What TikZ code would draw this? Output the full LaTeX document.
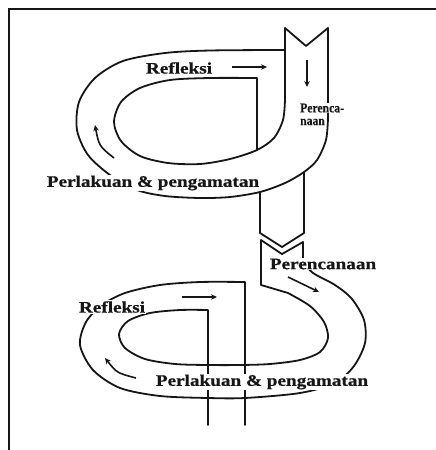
\documentclass[tikz,border=0pt]{standalone}
\usepackage{fontspec}
\setmainfont{Liberation Serif}
\newfontfamily\widefont[FakeStretch=1.2,BoldFeatures={FakeBold=0.6}]{Liberation Serif}
\usetikzlibrary{arrows.meta}
\definecolor{ink}{RGB}{22,22,22}
\newcommand{\squeeze}[1]{\scalebox{0.72}[1]{#1}}
\tikzset{
  rib/.style={draw=ink,line width=1.8pt,line cap=round,line join=round},
  arr/.style={-{Stealth[length=6pt,width=5.5pt]},line width=1.6pt,draw=ink},
  lbl/.style={font=\widefont\fontsize{16}{16}\selectfont\bfseries,text=ink,
    fill=white,inner sep=1pt},
  narrowlbl/.style={lbl,font=\widefont\fontsize{13.5}{13.5}\selectfont\bfseries,
    anchor=west},
}

\begin{document}
\begin{tikzpicture}[x=1pt,y=-1pt]
  \useasboundingbox (0,0) rectangle (436,450);
  % frame
  \draw[ink,line width=2.6pt] (9,452) -- (9,9) -- (438,9);

  % first cycle
  \draw[rib] (285,28) -- (306,46) -- (328,28);
  \draw[rib] (328,28) -- (328,118) -- plot[smooth] coordinates {(328,118)
    (326,140) (317,160) (304,172) (285,183) (260,192) (230,197) (200,198)
    (165,196) (137,190) (110,175) (88,155) (77,130) (79,102) (95,78)
    (123,61) (165,53) (210,50.5) (285,50)};
  \draw[rib] (285,28) -- (285,100) -- plot[smooth] coordinates {(285,100)
    (283,120) (274,138) (257,150) (230,159) (200,164) (168,163) (140,156)
    (121,141) (114,122) (121,102) (140,88) (170,80) (210,78) (257,78)}
    -- (257,150);
  \draw[rib] (260,192) -- (260,233) -- (282,247) -- (304,233) -- (304,172);

  % second cycle
  \draw[rib] (303,262) -- (303,242) -- (282,254) -- (261,240) -- (261,285)
    -- (288,293) -- plot[smooth] coordinates {(288,293) (310,306) (324,322)
    (328,338) (320,352) (300,360) (270,364) (240,365) (208,365) (175,364)
    (145,359) (125,348) (119,334) (128,321) (150,313) (180,310) (208,310)}
    -- (208,425);
  \draw[rib] (303,262) -- plot[smooth] coordinates {(303,262) (313,273)
    (335,285) (352,299) (364,320) (365,343) (354,366) (335,383) (300,393)
    (245,398) (208,398) (160,396) (120,388) (93,370) (80,345) (86,322)
    (102,305) (125,293) (160,285) (200,282) (245,282)} -- (245,425);

  % labels
  \node[lbl] (refA) at (179,68) {Refleksi};
  \node[narrowlbl] (planA) at (299,108) {\squeeze{Perenca-}};
  \node[narrowlbl] (planA2) at (299,122) {\squeeze{naan}};
  \node[lbl] (actA) at (153,183) {Perlakuan \& pengamatan};
  \node[lbl] (planB) at (323,264) {Perencanaan};
  \node[lbl] (refB) at (112,307) {Refleksi};
  \node[lbl] (actB) at (262,382) {Perlakuan \& pengamatan};

  % arrows
  \coordinate (a1) at (232,67);  \coordinate (b1) at (267,67);
  \coordinate (a2) at (307,60);  \coordinate (b2) at (307,87);
  \coordinate (a3) at (114,158); \coordinate (b3) at (95,125);
  \coordinate (a4) at (288,277); \coordinate (b4) at (319,292);
  \coordinate (a5) at (182,297); \coordinate (b5) at (217,297);
  \coordinate (a6) at (136,378); \coordinate (b6) at (105,358);
  \draw[arr] (a1) -- (b1);
  \draw[arr] (a2) -- (b2);
  \draw[arr] (a3) .. controls (99,146) .. (b3);
  \draw[arr] (a4) -- (b4);
  \draw[arr] (a5) -- (b5);
  \draw[arr] (a6) .. controls (117,373) .. (b6);
\end{tikzpicture}
\end{document}
